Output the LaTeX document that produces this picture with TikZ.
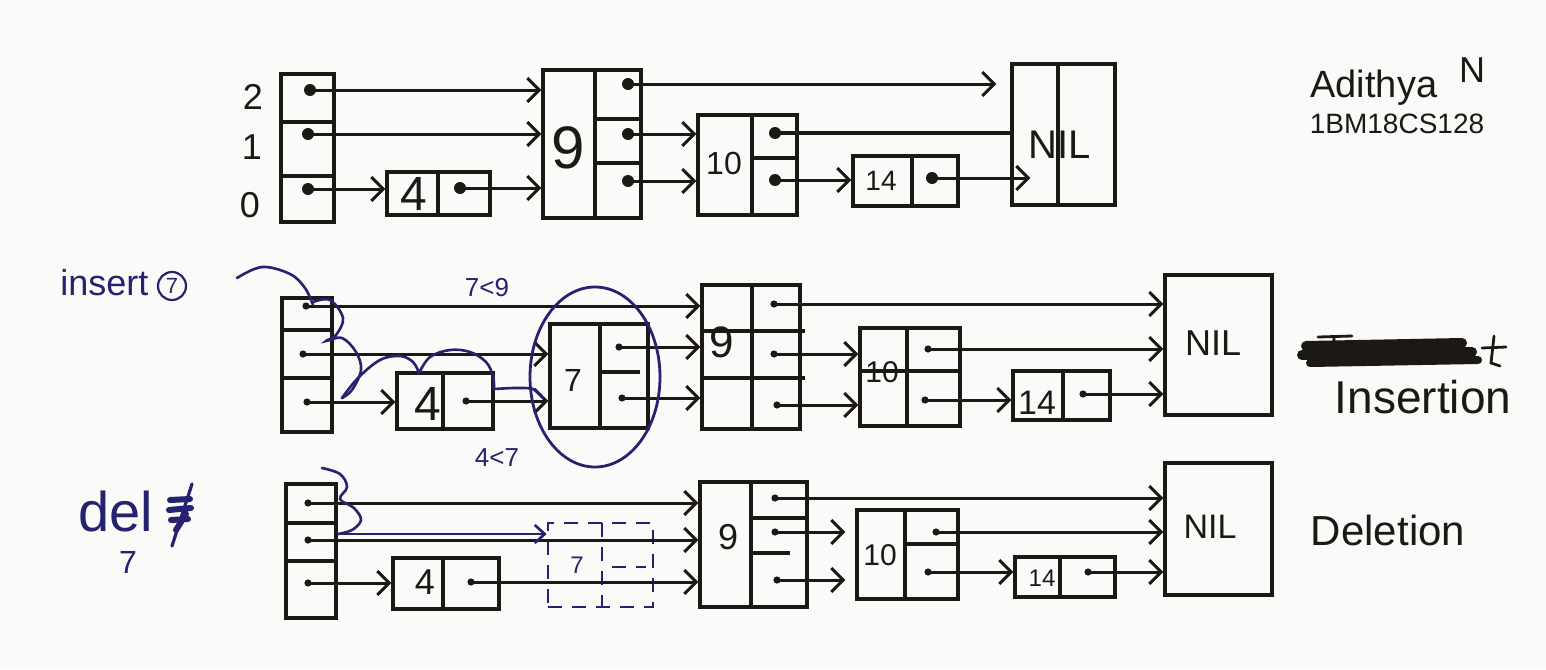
\documentclass[tikz,border=0pt]{standalone}
\usepackage{fontspec}
\setmainfont{Liberation Sans}
\usetikzlibrary{arrows.meta,fit,shapes.geometric}
\definecolor{ink}{HTML}{1C1816}
\definecolor{bink}{HTML}{25226F}
\definecolor{paper}{HTML}{FAFAF8}
\newcommand\myfs[1]{\fontsize{#1}{#1}\selectfont}
\begin{document}
\begin{tikzpicture}[x=0.5pt,y=-0.5pt,
  box/.style={draw=ink, line width=1.6pt, inner sep=0pt},
  dbox/.style={draw=bink, line width=1.3pt, dash pattern=on 7pt off 5pt, inner sep=0pt},
  ln/.style={draw=ink, line width=1.6pt},
  dln/.style={draw=bink, line width=1.3pt, dash pattern=on 7pt off 5pt},
  dotbig/.style={circle, fill=ink, inner sep=0pt, minimum size=6pt},
  dotsm/.style={circle, fill=ink, inner sep=0pt, minimum size=3.6pt},
  arr/.style={draw=ink, line width=1.5pt, -{Straight Barb[length=6pt,width=12pt,line width=1.5pt]}},
  barr/.style={draw=bink, line width=1.4pt, -{Straight Barb[length=5pt,width=9pt,line width=1.3pt]}},
  bpath/.style={draw=bink, line width=1.3pt, line cap=round},
  lbl/.style={text=ink, inner sep=0pt},
  blbl/.style={text=bink, inner sep=0pt}]
\fill[paper] (0,0) rectangle (1546,669);
\useasboundingbox (0,0) rectangle (1546,669);

% ================= Row 1 =================
\node[box, fit={(281,74) (334,222)}] (h1) {};
\draw[ln] (281,122)--(334,122) (281,176)--(334,176);
\node[lbl, font=\myfs{18}] (l2) at (253,97) {2};
\node[lbl, font=\myfs{18}] (l1) at (252,147) {1};
\node[lbl, font=\myfs{18}] (l0) at (250,205) {0};
\node[dotbig] (h1a) at (310,90) {};
\node[dotbig] (h1b) at (308,134) {};
\node[dotbig] (h1c) at (308,189) {};

\node[box, fit={(387,172) (490,215)}] (n4a) {};
\draw[ln] (438,172)--(438,215);
\node[lbl, font=\myfs{24}] (t4a) at (414,194) {4};
\node[dotbig] (n4ad) at (460,188) {};

\node[box, fit={(543,70) (641,218)}] (n9a) {};
\draw[ln] (595,70)--(595,218) (595,119)--(641,119) (595,163)--(641,163);
\node[lbl, font=\myfs{30}] (t9a) at (568,148) {9};
\node[dotbig] (n9aa) at (628,84) {};
\node[dotbig] (n9ab) at (628,134) {};
\node[dotbig] (n9ac) at (628,181) {};

\node[box, fit={(698,115) (797,215)}] (n10a) {};
\draw[ln] (752,115)--(752,215) (752,158)--(797,158);
\node[lbl, font=\myfs{16}] (t10a) at (724,163) {10};
\node[dotbig] (n10aa) at (775,133) {};
\node[dotbig] (n10ab) at (775,180) {};

\node[box, fit={(853,156) (958,206)}] (n14a) {};
\draw[ln] (912,156)--(912,206);
\node[lbl, font=\myfs{14}] (t14a) at (881,181) {14};
\node[dotbig] (n14ad) at (932,178) {};

\node[box, fit={(1012,64) (1115,205)}] (nila) {};
\draw[ln] (1058,64)--(1058,205);
\node[lbl, font=\myfs{20}] (tnila) at (1060,145) {NIL};

\draw[arr] (h1a.center) -- (n9a.west |- h1a.center);
\draw[arr] (h1b.center) -- (n9a.west |- h1b.center);
\draw[arr] (h1c.center) -- (n4a.west |- h1c.center);
\draw[arr] (n4ad.center) -- (n9a.west |- n4ad.center);
\draw[arr] (n9aa.center) -- ([xshift=-7pt]nila.west |- n9aa.center);
\draw[arr] (n9ab.center) -- (n10a.west |- n9ab.center);
\draw[arr] (n9ac.center) -- (n10a.west |- n9ac.center);
\draw[ln] (n10aa.center) -- (nila.west |- n10aa.center);
\draw[arr] (n10ab.center) -- (n14a.west |- n10ab.center);
\draw[arr] (n14ad.center) -- ([xshift=10pt]nila.west |- n14ad.center);

\node[lbl, font=\myfs{19}, anchor=base west] (name) at (1310,97) {Adithya};
\node[lbl, font=\myfs{18}] (nameN) at (1472,70) {N};
\node[lbl, font=\myfs{14}] (usn) at (1397,124) {1BM18CS128};

% ================= Row 2 (insertion) =================
\node[box, fit={(282,298) (332,432)}] (h2) {};
\draw[ln] (282,330)--(332,330) (282,378)--(332,378);
\node[dotsm] (h2a) at (306,306) {};
\node[dotsm] (h2b) at (303,354) {};
\node[dotsm] (h2c) at (307,402) {};

\node[box, fit={(397,373) (493,429)}] (n4b) {};
\draw[ln] (443,373)--(443,429);
\node[lbl, font=\myfs{24}] (t4b) at (428,404) {4};
\node[dotsm] (n4bd) at (466,401) {};

\node[box, fit={(550,324) (648,428)}] (n7b) {};
\draw[ln] (600,324)--(600,428) (600,372)--(640,372);
\node[lbl, font=\myfs{16}] (t7b) at (573,380) {7};
\node[dotsm] (n7ba) at (619,347) {};
\node[dotsm] (n7bb) at (622,398) {};

\node[box, fit={(702,285) (800,429)}] (n9b) {};
\draw[ln] (752,285)--(752,429) (702,331)--(805,331) (702,378)--(805,378);
\node[lbl, font=\myfs{22}] (t9b) at (722,342) {9};
\node[dotsm] (n9ba) at (774,304) {};
\node[dotsm] (n9bb) at (774,354) {};
\node[dotsm] (n9bc) at (777,405) {};

\node[box, fit={(860,328) (960,426)}] (n10b) {};
\draw[ln] (907,328)--(907,426) (860,371)--(960,371);
\node[lbl, font=\myfs{15}] (t10b) at (882,372) {10};
\node[dotsm] (n10ba) at (928,349) {};
\node[dotsm] (n10bb) at (925,400) {};

\node[box, fit={(1013,371) (1110,420)}] (n14b) {};
\draw[ln] (1063,371)--(1063,420);
\node[lbl, font=\myfs{17}] (t14b) at (1037,403) {14};
\node[dotsm] (n14bd) at (1083,394) {};

\node[box, fit={(1165,275) (1272,415)}] (nilb) {};
\node[lbl, font=\myfs{18}] (tnilb) at (1213,343) {NIL};

\draw[arr] (h2a.center) -- (n9b.west |- h2a.center);
\draw[arr] (h2b.center) -- (n7b.west |- h2b.center);
\draw[arr] (h2c.center) -- (n4b.west |- h2c.center);
\draw[arr] (n4bd.center) -- (n7b.west |- n4bd.center);
\draw[arr] (n7ba.center) -- (n9b.west |- n7ba.center);
\draw[arr] (n7bb.center) -- (n9b.west |- n7bb.center);
\draw[arr] (n9ba.center) -- (nilb.west |- n9ba.center);
\draw[arr] (n9bb.center) -- (n10b.west |- n9bb.center);
\draw[arr] (n9bc.center) -- (n10b.west |- n9bc.center);
\draw[arr] (n10ba.center) -- (nilb.west |- n10ba.center);
\draw[arr] (n10bb.center) -- (n14b.west |- n10bb.center);
\draw[arr] (n14bd.center) -- (nilb.west |- n14bd.center);

% blue annotations, insertion
\node[blbl, font=\myfs{18}, anchor=base west] (ins) at (60,295) {insert};
\node[circle, draw=bink, line width=1.1pt, text=bink, inner sep=0pt, minimum size=14pt, font=\myfs{11}] (c7) at (172,286) {7};
\node[ellipse, draw=bink, line width=1.4pt, minimum width=65pt, minimum height=90pt, inner sep=0pt] (ell) at (595,377) {};
\node[blbl, font=\myfs{13}] (lt79) at (487,288) {7<9};
\node[blbl, font=\myfs{13}] (lt47) at (497,458) {4<7};
\draw[bpath] plot[smooth, tension=0.6] coordinates {(237,278) (262,267) (290,274) (305,288) (313,305)};
\draw[bpath] plot[smooth, tension=0.6] coordinates {(313,302) (330,300) (343,318) (336,335) (326,341) (342,338) (356,352) (361,370) (352,390) (342,398)};
\draw[bpath] plot[smooth, tension=0.6] coordinates {(342,398) (358,378) (380,360) (400,356) (413,362) (419,373)};
\draw[bpath] plot[smooth, tension=0.6] coordinates {(419,373) (430,357) (450,350) (470,352) (486,362) (493,376) (494,389)};
\draw[bpath] plot[smooth, tension=0.5] coordinates {(494,389) (515,388) (533,389) (543,398)};

% scribbled-out word
\draw[ink, line width=5pt, line cap=round] (1306,346) -- (1462,343);
\draw[ink, line width=5pt, line cap=round] (1302,355) -- (1472,352);
\draw[ink, line width=4pt, line cap=round] (1310,363) -- (1478,360);
\draw[ink, line width=1.4pt, line cap=round] (1318,337) -- (1352,336) (1334,337) -- (1333,360);
\draw[ink, line width=1.4pt, line cap=round] (1494,336) -- (1491,363) -- (1500,366) (1482,348) -- (1506,347);
\node[lbl, font=\myfs{23}] (insertion) at (1423,397) {Insertion};

% ================= Row 3 (deletion) =================
\node[box, fit={(286,484) (336,618)}] (h3) {};
\draw[ln] (286,523)--(336,523) (286,561)--(336,561);
\node[dotsm] (h3a) at (308,503) {};
\node[dotsm] (h3b) at (308,540) {};
\node[dotsm] (h3c) at (308,583) {};

\node[box, fit={(393,558) (499,609)}] (n4c) {};
\draw[ln] (443,558)--(443,609);
\node[lbl, font=\myfs{18}] (t4c) at (425,582) {4};
\node[dotsm] (n4cd) at (471,582) {};

\node[dbox, fit={(548,523) (653,607)}] (n7c) {};
\draw[dln] (602,523)--(602,607);
\draw[dln] (612,567)--(646,567);
\node[blbl, font=\myfs{12}] (t7c) at (577,565) {7};

\node[box, fit={(700,482) (807,607)}] (n9c) {};
\draw[ln] (751,482)--(751,607) (751,518)--(807,518) (751,553)--(790,553);
\node[lbl, font=\myfs{18}] (t9c) at (728,537) {9};
\node[dotsm] (n9ca) at (775,498) {};
\node[dotsm] (n9cb) at (775,532) {};
\node[dotsm] (n9cc) at (777,580) {};

\node[box, fit={(857,510) (958,599)}] (n10c) {};
\draw[ln] (905,510)--(905,599) (905,544)--(958,544);
\node[lbl, font=\myfs{15}] (t10c) at (880,555) {10};
\node[dotsm] (n10ca) at (936,532) {};
\node[dotsm] (n10cb) at (928,572) {};

\node[box, fit={(1015,557) (1115,597)}] (n14c) {};
\draw[ln] (1060,557)--(1060,597);
\node[lbl, font=\myfs{12}] (t14c) at (1042,578) {14};
\node[dotsm] (n14cd) at (1088,572) {};

\node[box, fit={(1165,463) (1272,595)}] (nilc) {};
\node[lbl, font=\myfs{17}] (tnilc) at (1210,527) {NIL};

\draw[arr] (h3a.center) -- (n9c.west |- h3a.center);
\draw[arr] (h3b.center) -- (n9c.west |- h3b.center);
\draw[arr] (h3c.center) -- (n4c.west |- h3c.center);
\draw[arr] (n4cd.center) -- (n9c.west |- n4cd.center);
\draw[arr] (n9ca.center) -- (nilc.west |- n9ca.center);
\draw[arr] (n9cb.center) -- ([xshift=-5pt]n10c.west |- n9cb.center);
\draw[arr] (n9cc.center) -- ([xshift=-5pt]n10c.west |- n9cc.center);
\draw[arr] (n10ca.center) -- (nilc.west |- n10ca.center);
\draw[arr] (n10cb.center) -- (n14c.west |- n10cb.center);
\draw[arr] (n14cd.center) -- (nilc.west |- n14cd.center);

% blue annotations, deletion
\coordinate (b3s) at (338,534);
\draw[barr] (b3s) -- (n7c.west |- b3s);
\draw[bpath] plot[smooth, tension=0.6] coordinates {(322,468) (340,474) (347,487) (340,499) (354,508) (361,520) (352,530) (338,534)};
\node[blbl, font=\myfs{28}, anchor=base west] (del) at (78,531) {del};
\draw[bink, line width=3pt, line cap=round] (170,500) -- (190,499) (169,510) -- (191,508) (171,520) -- (188,519) (176,530) -- (186,514);
\draw[bink, line width=1.6pt, line cap=round] (192,484) -- (172,546);
\node[blbl, font=\myfs{16}] (del7) at (128,562) {7};
\node[lbl, font=\myfs{21}] (deletion) at (1388,530) {Deletion};
\end{tikzpicture}
\end{document}
